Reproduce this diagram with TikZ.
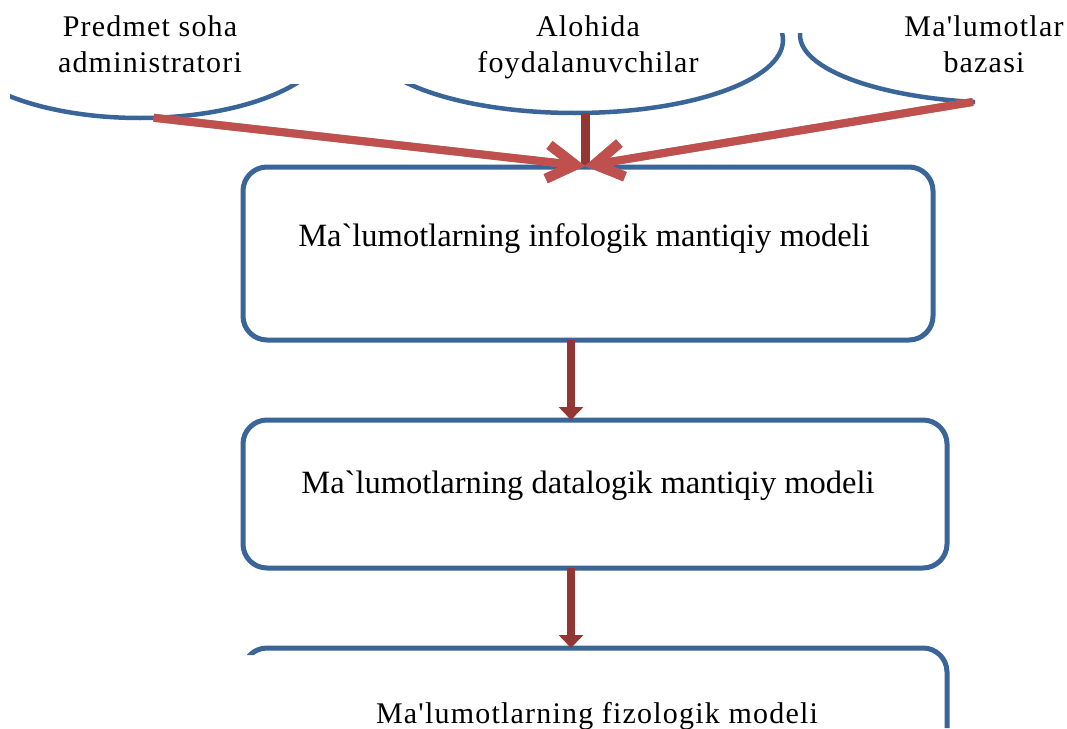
\documentclass[tikz,border=0pt]{standalone}
\usepackage{fontspec}
\usetikzlibrary{arrows.meta,shapes.geometric}
\newfontfamily\boxfont{Liberation Serif}
\newfontfamily\labelfont{Liberation Serif}[LetterSpace=4]
\definecolor{frameblue}{HTML}{3A6598}
\definecolor{arrowred}{HTML}{C0504D}
\definecolor{stemred}{HTML}{943634}
\definecolor{shade}{HTML}{909090}

\begin{document}
\begin{tikzpicture}[x=1pt,y=-1pt,
  oval/.style={ellipse, draw=frameblue, line width=4.5pt, inner sep=0pt, outer sep=0pt},
  stage/.style={draw=frameblue, line width=5pt, rounded corners=24pt, inner sep=0pt, outer sep=0pt},
  stagetext/.style={font=\boxfont\fontsize{32.5}{38}\selectfont, inner sep=0pt, anchor=base},
  caption/.style={font=\labelfont\fontsize{30}{36}\selectfont, align=center, inner sep=0pt, anchor=north},
  feedtip/.style={-{Straight Barb[length=28pt,width=34pt,line width=10pt]}},
  feed/.style={draw=arrowred, line width=8pt, feedtip},
  feedshadow/.style={draw=shade, line width=8pt, feedtip, xshift=1.5pt, yshift=-3.5pt},
  stem/.style={draw=stemred, line width=9pt},
  link/.style={draw=stemred, line width=8.5pt, -{Triangle[length=13pt,width=24pt]}},
]
\useasboundingbox (0,0) rectangle (1067,728);

% shapes, partly hidden behind the caption areas
\begin{scope}
  \clip (10,84) -- (712,84) -- (712,33) -- (975,33) -- (975,728)
        -- (900,728) -- (900,655) -- (10,655) -- cycle;

  \node[oval, minimum width=376pt, minimum height=156pt] (e1) at (140,40) {};
  \node[oval, minimum width=416pt, minimum height=146pt] (e2) at (575,40) {};
  \node[oval, minimum width=420pt, minimum height=136pt] (e3) at (1010,35) {};

  \node[stage, minimum width=690pt, minimum height=173pt] (m1) at (588,253.5) {};
  \node[stage, minimum width=704pt, minimum height=148pt] (m2) at (595,494) {};
  \node[stage, minimum width=704pt, minimum height=152pt] (m3) at (595,724) {};

  \coordinate (hub) at (585,166);
  \coordinate (axis) at (571,0);

  % inputs converging on the first model
  \draw[stem] (e2.south -| hub) -- (hub);
  \draw[feedshadow] (e1.-80) -- (hub);
  \draw[feedshadow] (e3.241) -- (hub);
  \draw[feed] (e1.-80) -- (hub);
  \draw[feed] (e3.241) -- (hub);

  % model chain
  \draw[link] (m1.south -| axis) -- (m2.north -| axis);
  \draw[link] (m2.south -| axis) -- (m3.north -| axis);
\end{scope}

\node[stagetext] (t1) at (584,246) {Ma`lumotlarning infologik mantiqiy modeli};
\node[stagetext] (t2) at (588,493) {Ma`lumotlarning datalogik mantiqiy modeli};
\node[stagetext, font=\labelfont\fontsize{30}{36}\selectfont] (t3) at (597,723) {Ma'lumotlarning fizologik modeli};

\node[caption] (c1) at (150,15.5) {Predmet soha\\administratori};
\node[caption] (c2) at (588,15.5) {Alohida\\foydalanuvchilar};
\node[caption] (c3) at (984,15) {Ma'lumotlar\\bazasi};
\end{tikzpicture}
\end{document}
